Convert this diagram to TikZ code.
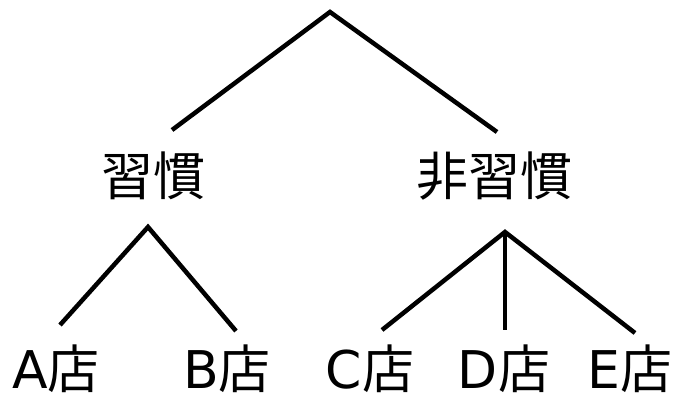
\documentclass[tikz,border=0pt]{standalone}
\usepackage{fontspec}
\setmainfont{DejaVu Sans}
\newfontfamily\cjk{Noto Sans CJK JP}
\begin{document}
\begin{tikzpicture}[x=1pt,y=-1pt,
  lbl/.style={inner sep=0pt, text height=36pt, text depth=4pt, font=\fontsize{52}{56}\selectfont},
  edge/.style={line width=4.5pt}]
\useasboundingbox (0,0) rectangle (674,398);
\coordinate (root) at (330,12);
\coordinate (l1) at (172,130);
\coordinate (r1) at (497,132);
\node[lbl] (hab) at (153,180) {\cjk 習慣};
\node[lbl] (nhab) at (494,180) {\cjk 非習慣};
\coordinate (habtop) at (148,227);
\coordinate (nhabtop) at (505,232);
\node[lbl] (a) at (56,372) {A\cjk 店};
\node[lbl] (b) at (227,372) {B\cjk 店};
\node[lbl] (c) at (370,372) {C\cjk 店};
\node[lbl] (d) at (504,372) {D\cjk 店};
\node[lbl] (e) at (630,372) {E\cjk 店};
\coordinate (aend) at (60,325);
\coordinate (bend) at (236,331);
\coordinate (cend) at (382,330);
\coordinate (dend) at (505,330);
\coordinate (eend) at (635,333);
\draw[edge] (l1) -- (root) -- (r1);
\draw[edge] (aend) -- (habtop) -- (bend);
\draw[edge] (cend) -- (nhabtop) -- (eend);
\draw[edge] (nhabtop) -- (dend);
\end{tikzpicture}
\end{document}
